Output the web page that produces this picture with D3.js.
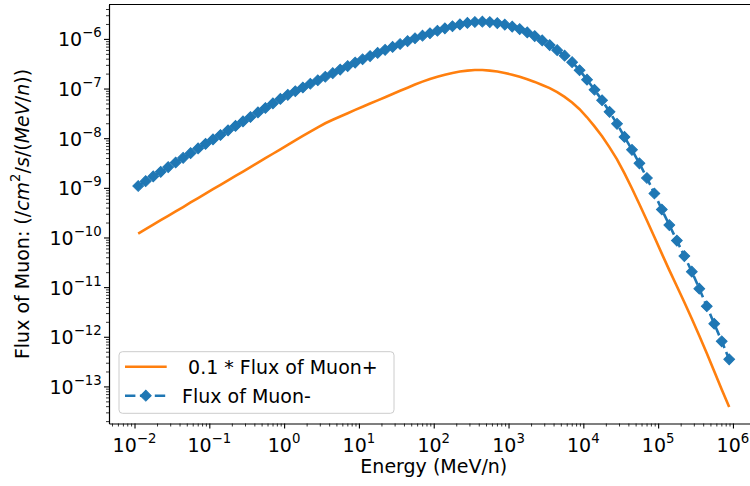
<!DOCTYPE html>
<html>
<head>
<meta charset="utf-8">
<script src="https://d3js.org/d3.v7.min.js"></script>
<style>
body{margin:0;background:#fff;}
svg{display:block;font-family:"DejaVu Sans",sans-serif;}
</style>
</head>
<body>
<div id="chart-area"></div>
<script>
//energy grid (MeV/n)
var energy = [
	1.12e-2,1.41e-2,1.78e-2,2.24e-2,2.82e-2,3.55e-2,4.47e-2,5.62e-2,7.08e-2,8.91e-2,
	1.12e-1,1.41e-1,1.78e-1,2.24e-1,2.82e-1,3.55e-1,4.47e-1,5.62e-1,7.08e-1,8.91e-1,
	1.12,1.41,1.78,2.24,2.82,3.55,4.47,5.62,7.08,8.91,
	11.2,14.1,17.8,22.4,28.2,35.5,44.7,56.2,70.8,89.1,
	112,141,178,224,282,355,447,562,708,891,
	1120,1410,1780,2240,2820,3550,4470,5620,7080,8910,
	1.12e4,1.41e4,1.78e4,2.24e4,2.82e4,3.55e4,4.47e4,5.62e4,7.08e4,8.91e4,
	1.12e5,1.41e5,1.78e5,2.24e5,2.82e5,3.55e5,4.47e5,5.62e5,7.08e5,8.91e5
];

//0.1 * flux of muon+
var fluxPlus = [
	1.20e-10,1.47e-10,1.81e-10,2.23e-10,2.73e-10,3.35e-10,4.11e-10,5.07e-10,6.22e-10,7.63e-10,
	9.37e-10,1.15e-9,1.42e-9,1.74e-9,2.13e-9,2.62e-9,3.23e-9,3.96e-9,4.86e-9,5.96e-9,
	7.35e-9,9.02e-9,1.11e-8,1.36e-8,1.66e-8,2.00e-8,2.35e-8,2.74e-8,3.18e-8,3.71e-8,
	4.30e-8,4.99e-8,5.78e-8,6.68e-8,7.76e-8,9.00e-8,1.04e-7,1.21e-7,1.38e-7,1.56e-7,
	1.73e-7,1.90e-7,2.06e-7,2.20e-7,2.30e-7,2.36e-7,2.36e-7,2.30e-7,2.20e-7,2.06e-7,
	1.90e-7,1.72e-7,1.54e-7,1.36e-7,1.18e-7,1.02e-7,8.43e-8,6.78e-8,5.22e-8,3.83e-8,
	2.64e-8,1.73e-8,1.09e-8,6.53e-9,3.74e-9,1.95e-9,9.72e-10,4.67e-10,2.19e-10,1.02e-10,
	4.73e-11,2.20e-11,1.04e-11,4.97e-12,2.31e-12,1.05e-12,4.64e-13,2.01e-13,8.71e-14,3.86e-14
];

//flux of muon-
var fluxMinus = [
	1.09e-9,1.36e-9,1.70e-9,2.10e-9,2.62e-9,3.24e-9,4.03e-9,4.99e-9,6.21e-9,7.69e-9,
	9.44e-9,1.16e-8,1.44e-8,1.77e-8,2.18e-8,2.67e-8,3.30e-8,4.06e-8,5.01e-8,6.18e-8,
	7.46e-8,8.83e-8,1.05e-7,1.25e-7,1.47e-7,1.73e-7,2.04e-7,2.41e-7,2.84e-7,3.34e-7,
	3.89e-7,4.50e-7,5.21e-7,6.03e-7,6.89e-7,7.89e-7,8.99e-7,1.03e-6,1.16e-6,1.30e-6,
	1.46e-6,1.63e-6,1.80e-6,1.96e-6,2.10e-6,2.19e-6,2.22e-6,2.18e-6,2.08e-6,1.94e-6,
	1.77e-6,1.58e-6,1.35e-6,1.14e-6,9.33e-7,7.50e-7,5.94e-7,4.60e-7,3.40e-7,2.34e-7,
	1.51e-7,9.47e-8,5.81e-8,3.40e-8,1.95e-8,1.06e-8,5.82e-9,3.11e-9,1.58e-9,7.70e-10,
	3.66e-10,1.78e-10,8.67e-11,4.22e-11,2.05e-11,9.31e-12,4.12e-12,1.83e-12,8.11e-13,3.51e-13
];

//tick decades (exponents)
var xTickExp = [-2,-1,0,1,2,3,4,5,6];
var yTickExp = [-13,-12,-11,-10,-9,-8,-7,-6];

var seriesNames = [" 0.1 * Flux of Muon+", "Flux of Muon-"];
var seriesColors = ["#ff7f0e", "#1f77b4"];

//svg area
var svg_x = 750;
var svg_y = 486;
var margin = {left:109, top:4.5};
var width = 649.6;   // right spine falls just outside the picture
var height = 419;

var svg = d3.select("#chart-area")
	.append("svg")
		.attr("width", svg_x)
		.attr("height", svg_y);
svg.append("rect").attr("width", svg_x).attr("height", svg_y).attr("fill", "#fff");

var g = svg.append("g")
	.attr("transform", "translate(" + margin.left + "," + margin.top + ")");

//log scales
var x = d3.scaleLog()
	.domain([Math.pow(10, -2.341), Math.pow(10, 6.343)])
	.range([0, width]);
var y = d3.scaleLog()
	.domain([Math.pow(10, -13.747), Math.pow(10, -5.307)])
	.range([height, 0]);

//minor ticks 2..9 for each decade inside the domain
function minorTicks(scale, lo, hi){
	var out = [];
	var dom = scale.domain();
	for (var k = lo; k <= hi; k++){
		for (var m = 2; m <= 9; m++){
			var v = m * Math.pow(10, k);
			if (v >= dom[0] && v <= dom[1]) out.push(v);
		}
	}
	return out;
}

var xMajor = xTickExp.map(e => Math.pow(10, e));
var yMajor = yTickExp.map(e => Math.pow(10, e));

//x axis
var xAxisG = g.append("g")
	.attr("transform", "translate(0," + height + ")")
	.call(d3.axisBottom(x).tickValues(xMajor).tickSize(5).tickSizeOuter(0).tickFormat(""));
g.append("g")
	.attr("transform", "translate(0," + height + ")")
	.call(d3.axisBottom(x).tickValues(minorTicks(x, -3, 6)).tickSize(3).tickFormat(""))
	.call(s => s.select(".domain").remove())
	.selectAll("line").attr("stroke-width", 0.8);

//y axis
var yAxisG = g.append("g")
	.call(d3.axisLeft(y).tickValues(yMajor).tickSize(5).tickSizeOuter(0).tickFormat(""));
g.append("g")
	.call(d3.axisLeft(y).tickValues(minorTicks(y, -14, -6)).tickSize(3).tickFormat(""))
	.call(s => s.select(".domain").remove())
	.selectAll("line").attr("stroke-width", 0.8);

xAxisG.selectAll("line").attr("stroke-width", 1.1);
yAxisG.selectAll("line").attr("stroke-width", 1.1);
xAxisG.select(".domain").attr("stroke-width", 1.2);
yAxisG.select(".domain").attr("stroke-width", 1.2);

//top and right spines
g.append("line")
	.attr("x1", 0).attr("x2", width)
	.attr("y1", 0).attr("y2", 0)
	.attr("stroke", "#000").attr("stroke-width", 1.2);
g.append("line")
	.attr("x1", width).attr("x2", width)
	.attr("y1", 0).attr("y2", height)
	.attr("stroke", "#000").attr("stroke-width", 1.2);

//power-of-ten label: "10" + superscript
function powLabel(sel, e){
	sel.append("tspan").text("10");
	sel.append("tspan")
		.attr("dy", -9)
		.attr("font-size", 13.3)
		.text(e < 0 ? "\u2212" + (-e) : "" + e);
}

g.selectAll(".xlab")
	.data(xTickExp)
	.enter().append("text")
		.attr("class", "xlab")
		.attr("x", d => x(Math.pow(10, d)))
		.attr("y", height + 28)
		.attr("text-anchor", "middle")
		.attr("font-size", 19)
		.each(function(d){ powLabel(d3.select(this), d); });

g.selectAll(".ylab")
	.data(yTickExp)
	.enter().append("text")
		.attr("class", "ylab")
		.attr("x", -7.3)
		.attr("y", d => y(Math.pow(10, d)) + 7.4)
		.attr("text-anchor", "end")
		.attr("font-size", 19)
		.each(function(d){ powLabel(d3.select(this), d); });

//axis labels
g.append("text")
	.attr("x", width / 2)
	.attr("y", height + 49)
	.attr("text-anchor", "middle")
	.attr("font-size", 19)
	.text("Energy (MeV/n)");

var yLabel = g.append("text")
	.attr("transform", "translate(" + (29 - margin.left) + "," + (height / 2) + ") rotate(-90)")
	.attr("text-anchor", "middle")
	.attr("font-size", 19)
	.style("white-space", "pre");
yLabel.append("tspan").text("Flux of Muon: (/");
yLabel.append("tspan").attr("font-style", "italic").text("cm");
yLabel.append("tspan").attr("dy", -9).attr("font-size", 13.3).text("2");
yLabel.append("tspan").attr("dy", 9).text("/");
yLabel.append("tspan").attr("font-style", "italic").text("s");
yLabel.append("tspan").text("/(");
yLabel.append("tspan").attr("font-style", "italic").text("MeV");
yLabel.append("tspan").text("/");
yLabel.append("tspan").attr("font-style", "italic").text("n");
yLabel.append("tspan").text("))");

//data series
var plusData = energy.map((e, i) => ({e: e, v: fluxPlus[i]}));
var minusData = energy.map((e, i) => ({e: e, v: fluxMinus[i]}));

var line = d3.line()
	.x(d => x(d.e))
	.y(d => y(d.v));

g.append("path")
	.datum(plusData)
	.attr("fill", "none")
	.attr("stroke", seriesColors[0])
	.attr("stroke-width", 2.6)
	.attr("d", line);

g.append("path")
	.datum(minusData)
	.attr("fill", "none")
	.attr("stroke", seriesColors[1])
	.attr("stroke-width", 2.6)
	.attr("stroke-dasharray", "9.6,4.2")
	.attr("d", line);

var diamond = d3.symbol().type(d3.symbolSquare).size(58);

g.selectAll(".mk")
	.data(minusData)
	.enter().append("path")
		.attr("class", "mk")
		.attr("d", diamond)
		.attr("transform", d => "translate(" + x(d.e) + "," + y(d.v) + ") rotate(45)")
		.attr("fill", seriesColors[1])
		.attr("stroke", seriesColors[1])
		.attr("stroke-width", 1);

//legend
var lg = svg.append("g");
lg.append("rect")
	.attr("x", 119).attr("y", 351.7)
	.attr("width", 275).attr("height", 61.6)
	.attr("rx", 3.5)
	.attr("fill", "#fff").attr("fill-opacity", 0.8)
	.attr("stroke", "#cccccc").attr("stroke-width", 1);

var rowY = [366.7, 395.7];
lg.append("line")
	.attr("x1", 125).attr("x2", 166.7)
	.attr("y1", rowY[0]).attr("y2", rowY[0])
	.attr("stroke", seriesColors[0]).attr("stroke-width", 2.6);
lg.append("line")
	.attr("x1", 125).attr("x2", 166.7)
	.attr("y1", rowY[1]).attr("y2", rowY[1])
	.attr("stroke", seriesColors[1]).attr("stroke-width", 2.6)
	.attr("stroke-dasharray", "10.4,4.5");
lg.append("path")
	.attr("d", diamond)
	.attr("transform", "translate(145.8," + rowY[1] + ") rotate(45)")
	.attr("fill", seriesColors[1])
	.attr("stroke", seriesColors[1]).attr("stroke-width", 1);

lg.selectAll(".lgt")
	.data(seriesNames)
	.enter().append("text")
		.attr("class", "lgt")
		.attr("x", 182)
		.attr("y", (d, i) => rowY[i] + 6.8)
		.attr("font-size", 19)
		.style("white-space", "pre")
		.text(d => d);
</script>
</body>
</html>
